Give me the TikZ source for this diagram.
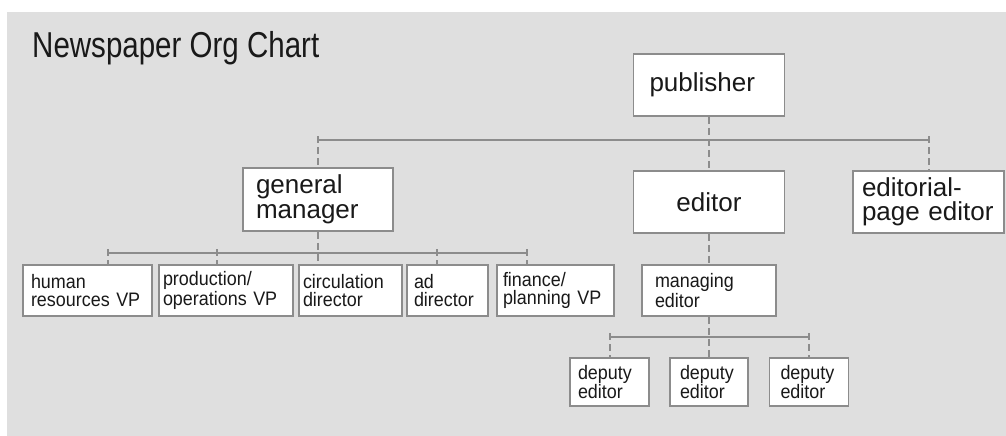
\documentclass[tikz,border=0pt]{standalone}
\usepackage{fontspec}
\setmainfont{Liberation Sans}
\newfontfamily\titlefont[FakeStretch=0.82]{Liberation Sans}
\newfontfamily\boxfont[FakeStretch=0.92]{Liberation Sans}
\usetikzlibrary{calc}
\definecolor{panel}{RGB}{223,223,223}
\definecolor{rulegray}{RGB}{140,140,140}
\definecolor{ink}{RGB}{25,25,25}
\colorlet{box-line}{rulegray}
\tikzset{
  orgbox/.style n args={3}{draw=box-line,fill=white,line width=1.8pt,text=ink,
    minimum width=#1,minimum height=#2,text width=#1-2*#3,inner xsep=#3,
    inner ysep=0pt,align=left},
  bigbox/.style n args={3}{orgbox={#1}{#2}{#3},font=\fontsize{26}{24.5}\selectfont},
  smallbox/.style n args={3}{orgbox={#1}{#2}{#3},font=\boxfont\fontsize{19.5}{18}\selectfont},
  link/.style={rulegray,line width=2pt},
  drop/.style={rulegray,line width=2pt,dash pattern=on 7pt off 4pt},
}
\newcommand{\tap}[2]{\coordinate (#1) at (#2);}

\begin{document}
\begin{tikzpicture}[x=1pt,y=-1pt]
    \pgfmathsetmacro{\busA}{140};
    \pgfmathsetmacro{\busB}{253};
    \pgfmathsetmacro{\busC}{337};
    \pgfmathsetmacro{\rowB}{290.5};
    \pgfmathsetmacro{\rowC}{382};
      \useasboundingbox (0,0) rectangle (1006,436);
      \fill[panel] (7,12) rectangle (1006,436);
      \node[anchor=base west,text=ink,inner sep=0pt,
        font=\titlefont\fontsize{36}{36}\selectfont] (title) at (32,57) {Newspaper Org Chart};

      \node[bigbox={151}{62}{16}] (pub) at (709,85) {publisher};
      \node[bigbox={150}{63}{13}] (gm) at (318,199.5) {general\\manager};
      \node[bigbox={151}{62}{13},align=center] (ed) at (709,202) {editor};
      \node[bigbox={151}{62}{9}] (epe) at (928.5,202) {editorial-\\page editor};

      \node[smallbox={129}{51}{8}] (hr) at (87.5,\rowB) {human\\resources VP};
      \node[smallbox={134}{51}{4}] (prod) at (226,\rowB) {production/\\operations VP};
      \node[smallbox={103}{51}{4}] (circ) at (350.5,\rowB) {circulation\\director};
      \node[smallbox={81}{51}{7}] (ad) at (447.5,\rowB) {ad\\director};
      \node[smallbox={117}{51}{6}] (fin) at (555.5,\rowB) {finance/\\planning VP};
      \node[smallbox={134}{51}{13}] (me) at (709,\rowB) {managing\\editor};

      \node[smallbox={79}{48}{8}] (dep1) at (609.5,\rowC) {deputy\\editor};
      \node[smallbox={78}{48}{10}] (dep2) at (709,\rowC) {deputy\\editor};
      \node[smallbox={79}{48}{11}] (dep3) at (809,\rowC) {deputy\\editor};

      \tap{a1}{318,\busA};
      \tap{a3}{928.5,\busA};
      \tap{b1}{108,\busB};
      \tap{b2}{217,\busB};
      \tap{b4}{437,\busB};
      \tap{b5}{527,\busB};
      \tap{c1}{609.5,\busC};
      \tap{c3}{809,\busC};

      % publisher line
      \draw[link] (a1) -- (a3);
      \draw[drop] (pub.south) -- (ed.north);
      \draw[drop] ($(a1)+(0,-4)$) -- (gm.north);
      \draw[drop] ($(a3)+(0,-4)$) -- (epe.north);

      % general manager line
      \draw[link] (b1) -- (b5);
      \draw[drop] (gm.south) -- (gm.south |- circ.north);
      \draw[drop] ($(b1)+(0,-4)$) -- (b1 |- hr.north);
      \draw[drop] ($(b2)+(0,-4)$) -- (b2 |- prod.north);
      \draw[drop] ($(b4)+(0,-4)$) -- (b4 |- ad.north);
      \draw[drop] ($(b5)+(0,-4)$) -- (b5 |- fin.north);

      % editor line
      \draw[drop] (ed.south) -- (me.north);
      \draw[link] (c1) -- (c3);
      \draw[drop] (me.south) -- (dep2.north);
      \draw[drop] ($(c1)+(0,-4)$) -- (dep1.north);
      \draw[drop] ($(c3)+(0,-4)$) -- (dep3.north);
  \end{tikzpicture}
\end{document}
